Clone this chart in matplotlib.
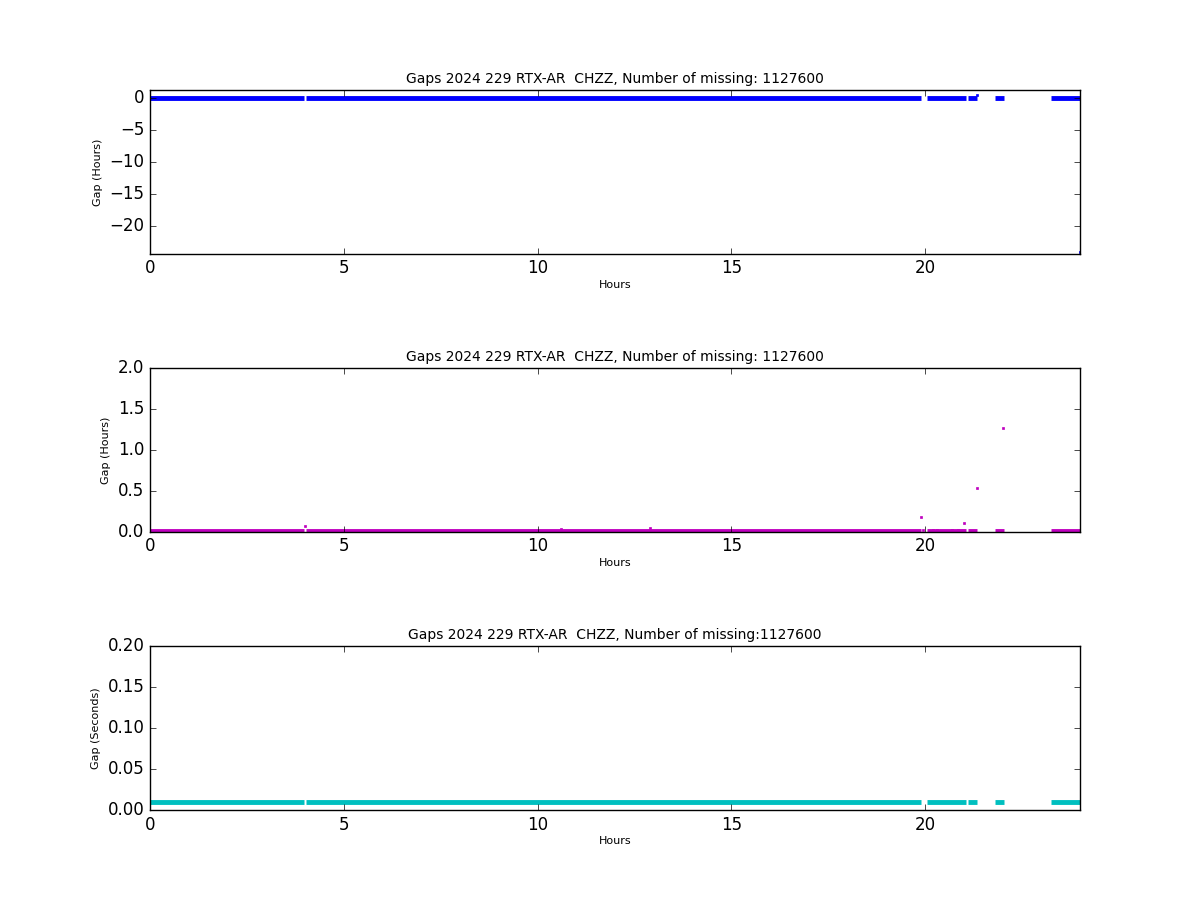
import matplotlib
matplotlib.use("Agg")
import matplotlib.pyplot as plt

plt.style.use("classic")

seg_start = [0.0, 4.03, 20.05, 21.1, 21.8, 23.25]
seg_end = [3.98, 19.9, 21.05, 21.35, 22.05, 24.0]

top_base = 0.0
top_out_x = [21.35, 24.0]
top_out_y = [0.5, -24.0]

mid_base = 0.01
mid_out_x = [4.0, 10.6, 12.9, 19.9, 19.95, 20.2, 20.3, 20.7, 20.85, 21.0, 21.35, 22.0]
mid_out_y = [0.07, 0.03, 0.05, 0.18, 0.02, 0.02, 0.02, 0.02, 0.02, 0.11, 0.53, 1.27]

bot_base = 0.01

title = "Gaps 2024 229 RTX-AR  CHZZ, Number of missing: 1127600"
title3 = "Gaps 2024 229 RTX-AR  CHZZ, Number of missing:1127600"

fig, axes = plt.subplots(3, 1, figsize=(12, 9), dpi=100)
fig.patch.set_facecolor("white")
fig.subplots_adjust(left=0.125, right=0.9, bottom=0.1, top=0.9, hspace=0.7)

def seg(ax, base, color):
    ax.hlines([base]*len(seg_start), seg_start, seg_end, colors=color, lw=3.5)

ax = axes[0]
seg(ax, top_base, "b")
ax.plot(top_out_x, top_out_y, "bs", ms=2, mec="b")
ax.set_ylim(-24.3, 1.23)
ax.set_yticks([0, -5, -10, -15, -20])
ax.set_ylabel("Gap (Hours)", fontsize=8)
ax.set_title(title, fontsize=10)

ax = axes[1]
seg(ax, mid_base, "m")
ax.plot(mid_out_x, mid_out_y, "ms", ms=2, mec="m")
ax.set_ylim(0, 2.0)
ax.set_ylabel("Gap (Hours)", fontsize=8)
ax.set_title(title, fontsize=10)

ax = axes[2]
seg(ax, bot_base, "c")
ax.set_ylim(0, 0.2)
ax.set_ylabel("Gap (Seconds)", fontsize=8)
ax.set_title(title3, fontsize=10)

for ax in axes:
    ax.set_xlim(0, 24)
    ax.set_xticks([0, 5, 10, 15, 20])
    ax.set_xlabel("Hours", fontsize=8, labelpad=2)
    ax.tick_params(labelsize=12)

fig.savefig("out.png", dpi=100, facecolor="white")
